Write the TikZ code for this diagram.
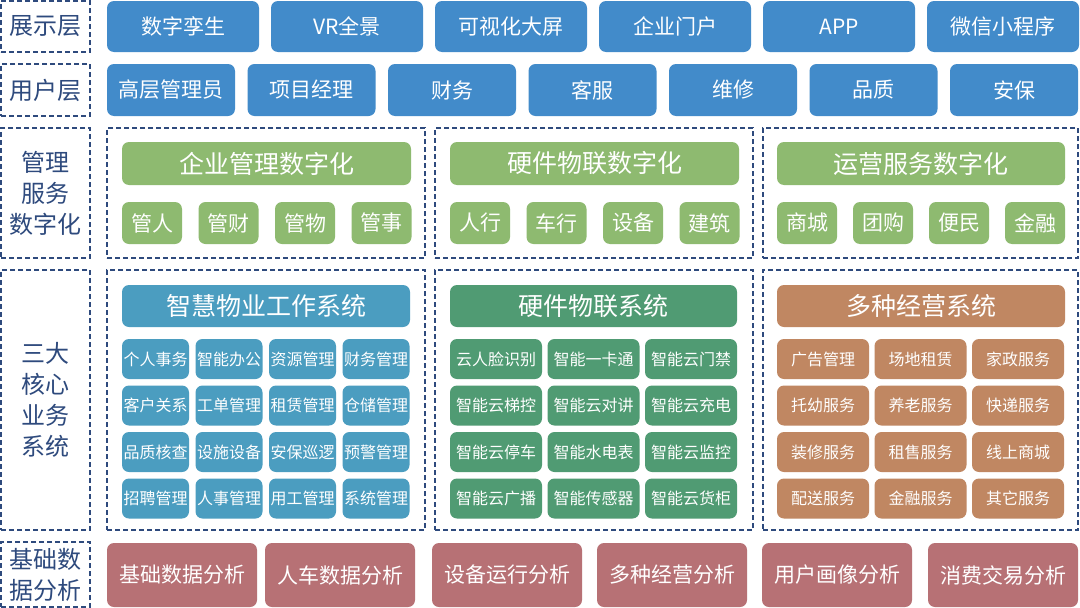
\documentclass[tikz,border=0pt]{standalone}
\usepackage{fontspec}
\setmainfont{Noto Sans CJK SC}
\definecolor{navy}{RGB}{46,74,125}
\definecolor{cblue}{RGB}{66,139,202}
\definecolor{cgreen}{RGB}{142,186,112}
\definecolor{cteal}{RGB}{75,157,192}
\definecolor{cdgreen}{RGB}{80,155,115}
\definecolor{cbrown}{RGB}{192,135,98}
\definecolor{crose}{RGB}{183,113,117}
\begin{document}
\begin{tikzpicture}[x=1pt,y=-1pt,
  box/.style={rounded corners=7pt, inner sep=0pt, outer sep=0pt, text=white, anchor=north west, align=center},
  sz/.style 2 args={minimum width=#1pt, minimum height=#2pt},
  dashbox/.style={draw=navy, line width=1.4pt, dash pattern=on 5pt off 3pt, inner sep=0pt, outer sep=0pt, anchor=north west},
  lab/.style={dashbox, text=navy, align=center, font=\fontsize{24}{31}\selectfont},
  big/.style={font=\fontsize{21}{25}\selectfont},
  head/.style={font=\fontsize{25}{30}\selectfont},
  small/.style={font=\fontsize{16}{19}\selectfont},
  bluebox/.style={box, fill=cblue, big},
  greenbox/.style={box, fill=cgreen},
  tealbox/.style={box, fill=cteal},
  dgreenbox/.style={box, fill=cdgreen},
  brownbox/.style={box, fill=cbrown},
  rosebox/.style={box, fill=crose, big}]
\useasboundingbox (0,0) rectangle (1080,608);
\fill[white] (0,0) rectangle (1080,608);

% ---- left labels
\node[lab, sz={89}{51}]  (L1) at (1,1)   {展示层};
\node[lab, sz={89}{52}]  (L2) at (1,64)  {用户层};
\node[lab, sz={89}{130}] (L3) at (1,128) {管理\\服务\\数字化};
\node[lab, sz={89}{260}] (L4) at (1,270) {三大\\核心\\业务\\系统};
\node[lab, sz={89}{65},font=\fontsize{24}{31}\selectfont] (L5) at (1,542) {基础数\\据分析};

% ---- row 1
\foreach \t [count=\i from 0] in {数字孪生,VR全景,可视化大屏,企业门户,APP,微信小程序}
  \node[bluebox, sz={152}{51}] (r1-\i) at ({107+\i*164},1) {\t};

% ---- row 2
\foreach \t [count=\i from 0] in {高层管理员,项目经理,财务,客服,维修,品质,安保}
  \node[bluebox, sz={128}{52}] (r2-\i) at ({107+\i*140.5},64) {\t};

% ---- row 3 panels
\node[dashbox, sz={318}{130}] (P31) at (107,128) {};
\node[dashbox, sz={318}{130}] (P32) at (435,128) {};
\node[dashbox, sz={315}{130}] (P33) at (763,128) {};
\node[greenbox, head, sz={289}{43}] (H31) at (122,142) {企业管理数字化};
\node[greenbox, head, sz={289}{43}] (H32) at (450,142) {硬件物联数字化};
\node[greenbox, head, sz={288}{43}] (H33) at (777,142) {运营服务数字化};
\foreach \t [count=\i from 0] in {管人,管财,管物,管事}
  \node[greenbox, big, sz={60}{42}] (m1-\i) at ({122+\i*76.5},202) {\t};
\foreach \t [count=\i from 0] in {人行,车行,设备,建筑}
  \node[greenbox, big, sz={60}{42}] (m2-\i) at ({450+\i*76.5},202) {\t};
\foreach \t [count=\i from 0] in {商城,团购,便民,金融}
  \node[greenbox, big, sz={60}{42}] (m3-\i) at ({777+\i*76},202) {\t};

% ---- row 4 panels
\node[dashbox, sz={318}{260}] (P41) at (107,270) {};
\node[dashbox, sz={318}{260}] (P42) at (435,270) {};
\node[dashbox, sz={315}{260}] (P43) at (763,270) {};
\node[tealbox, head, sz={288}{42}] (H41) at (122,285) {智慧物业工作系统};
\node[dgreenbox, head, sz={287}{42}] (H42) at (450,285) {硬件物联系统};
\node[brownbox, head, sz={288}{42}] (H43) at (777,285) {多种经营系统};
\foreach \t [count=\i from 0] in {个人事务,智能办公,资源管理,财务管理,客户关系,工单管理,租赁管理,仓储管理,品质核查,设施设备,安保巡逻,预警管理,招聘管理,人事管理,用工管理,系统管理}{
  \pgfmathtruncatemacro\c{mod(\i,4)}
  \pgfmathtruncatemacro\r{div(\i,4)}
  \node[tealbox, small, sz={67}{40}] (a\i) at ({122+\c*73.5},{339+\r*46.5}) {\t};
}
\foreach \t [count=\i from 0] in {云人脸识别,智能一卡通,智能云门禁,智能云梯控,智能云对讲,智能云充电,智能云停车,智能水电表,智能云监控,智能云广播,智能传感器,智能云货柜}{
  \pgfmathtruncatemacro\c{mod(\i,3)}
  \pgfmathtruncatemacro\r{div(\i,3)}
  \node[dgreenbox, small, sz={92}{40}] (b\i) at ({450+\c*97.5},{339+\r*46.5}) {\t};
}
\foreach \t [count=\i from 0] in {广告管理,场地租赁,家政服务,托幼服务,养老服务,快递服务,装修服务,租售服务,线上商城,配送服务,金融服务,其它服务}{
  \pgfmathtruncatemacro\c{mod(\i,3)}
  \pgfmathtruncatemacro\r{div(\i,3)}
  \node[brownbox, small, sz={92}{40}] (c\i) at ({777+\c*97.5},{339+\r*46.5}) {\t};
}

% ---- row 5
\node[rosebox, sz={150}{64}] (d0) at (107,543) {基础数据分析};
\node[rosebox, sz={150}{64}] (d1) at (265,543) {人车数据分析};
\node[rosebox, sz={150}{64}] (d2) at (432,543) {设备运行分析};
\node[rosebox, sz={150}{64}] (d3) at (597,543) {多种经营分析};
\node[rosebox, sz={150}{64}] (d4) at (762,543) {用户画像分析};
\node[rosebox, sz={150}{64}] (d5) at (928,543) {消费交易分析};
\end{tikzpicture}
\end{document}
